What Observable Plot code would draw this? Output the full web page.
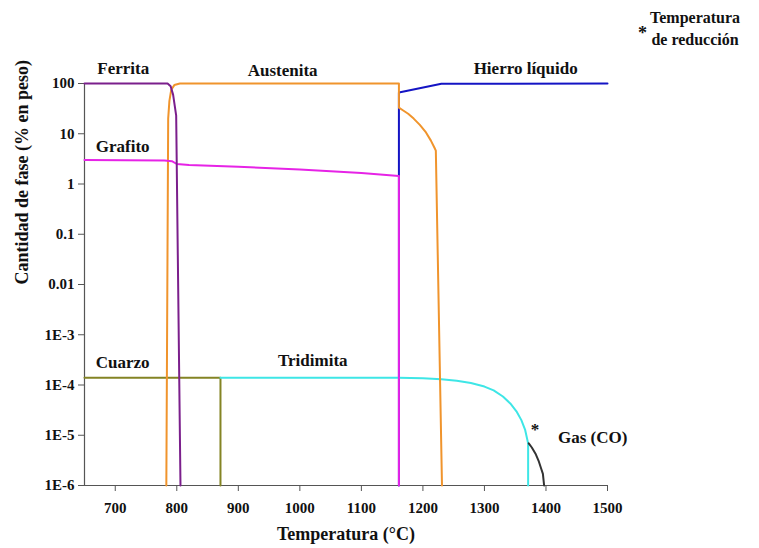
<!DOCTYPE html>
<html>
<head>
<meta charset="utf-8">
<script src="https://cdn.jsdelivr.net/npm/d3@7"></script>
<script src="https://cdn.jsdelivr.net/npm/@observablehq/plot@0.6"></script>
<style>
  body { margin: 0; background: #fff; }
  #wrap { position: relative; width: 759px; height: 548px; font-family: "Liberation Serif", "Times New Roman", serif; font-weight: bold; }
  #legend { position: absolute; left: 636px; top: 7px; font-size: 16px; line-height: 22px; color: #111; }
  #legend .star { position: absolute; left: 2px; top: 15px; font-size: 18px; }
  #legend .txt { margin-left: 14px; text-align: center; }
</style>
</head>
<body>
<div id="wrap">
  <div id="chart"></div>
  <div id="legend"><span class="star">*</span><div class="txt">Temperatura<br>de reducción</div></div>
</div>
<script>
// Data (temperature °C, phase amount % weight)
const ferrita = [[650, 100], [785, 100], [790, 88], [794, 60], [799, 23], [806, 1e-6]];
const austenita = [[783, 1e-6], [786, 20], [788, 45], [791, 75], [796, 93], [805, 100], [1161, 100], [1161, 33], [1168, 29], [1176, 25], [1185, 20], [1195, 15], [1205, 10.6], [1213, 7.3], [1219, 5.2], [1221, 4.6], [1231, 1e-6]];
const hierroLiquido = [[1161, 1e-6], [1161, 66], [1230, 99], [1500, 100]];
const grafito = [[650, 3.0], [780, 2.95], [792, 2.85], [800, 2.5], [820, 2.4], [900, 2.2], [1000, 1.95], [1100, 1.65], [1161, 1.45], [1161, 1e-6]];
const cuarzo = [[650, 1.4e-4], [871, 1.4e-4], [871, 1e-6]];
const tridimita = [[871, 1.4e-4], [1160, 1.4e-4], [1200, 1.36e-4], [1230, 1.3e-4], [1255, 1.22e-4], [1278, 1.1e-4], [1300, 9.3e-5], [1315, 7.8e-5], [1330, 5.9e-5], [1342, 4.3e-5], [1352, 3.0e-5], [1360, 2.0e-5], [1366, 1.3e-5], [1371, 6.9e-6], [1371, 1e-6]];
const gasCO = [[1372, 6.9e-6], [1377, 5.7e-6], [1383, 4.3e-6], [1388, 3.1e-6], [1392, 2.2e-6], [1395, 1.7e-6], [1397, 1e-6]];

const xTicks = [700, 800, 900, 1000, 1100, 1200, 1300, 1400, 1500];
const yTicks = [100, 10, 1, 0.1, 0.01, 1e-3, 1e-4, 1e-5, 1e-6];
const yTickLabels = ["100", "10", "1", "0.1", "0.01", "1E-3", "1E-4", "1E-5", "1E-6"];

const seriesNames = ["Ferrita", "Austenita", "Hierro líquido", "Grafito", "Cuarzo", "Tridimita", "Gas (CO)"];
const seriesData = [ferrita, austenita, hierroLiquido, grafito, cuarzo, tridimita, gasCO];
const seriesColors = ["#7b1f8c", "#f0942c", "#1414c4", "#e623e6", "#848424", "#3ee6e6", "#333333"];

// annotation labels (text, temperature, amount)
const labelText = ["Ferrita", "Austenita", "Hierro líquido", "Grafito", "Cuarzo", "Tridimita", "Gas (CO)", "*"];
const labelX = [713, 972, 1367, 712, 712, 1021, 1476, 1382];
const labelY = [200, 185, 200, 5.6, 2.8e-4, 3.1e-4, 9.1e-6, 1.3e-5];

const xTitle = "Temperatura (°C)";
const yTitle = "Cantidad de fase (% en peso)";

const rows = [];
// draw order: blue first so magenta covers it at 1160
const order = [2, 4, 5, 6, 1, 3, 0];
for (const k of order) {
  seriesData[k].forEach(([t, v]) => rows.push({series: seriesNames[k], t, v}));
}
const labels = labelText.map((s, i) => ({s, x: labelX[i], y: labelY[i]}));

const chart = Plot.plot({
  width: 759,
  height: 548,
  marginLeft: 84,
  marginRight: 152,
  marginTop: 83,
  marginBottom: 63,
  style: {fontFamily: "'Liberation Serif', 'Times New Roman', serif", fontWeight: "bold", fontSize: "15px", color: "#111", background: "#fff"},
  x: {domain: [650, 1500]},
  y: {type: "log", domain: [1e-6, 100]},
  color: {domain: seriesNames, range: seriesColors},
  marks: [
    Plot.axisX({ticks: xTicks, tickSize: 6, tickPadding: 11, label: null, stroke: "#555", fontSize: 15, tickFormat: (d) => String(d)}),
    Plot.axisY({ticks: yTicks, tickSize: 6, tickPadding: 4, label: null, stroke: "#555", fontSize: 15,
      tickFormat: (d) => yTickLabels[yTicks.findIndex((t) => Math.abs(Math.log10(t) - Math.log10(d)) < 1e-6)]}),
    Plot.ruleX([650], {stroke: "#555", strokeWidth: 1.2}),
    Plot.ruleY([1e-6], {stroke: "#555", strokeWidth: 1.2}),
    Plot.line(rows, {x: "t", y: "v", z: "series", stroke: "series", strokeWidth: 2}),
    Plot.text(labels, {x: "x", y: "y", text: "s", fontSize: 17, fill: "#111"}),
    Plot.text([yTitle], {frameAnchor: "left", rotate: -90, dx: -62, fontSize: 18, fill: "#111"}),
    Plot.text([xTitle], {frameAnchor: "bottom", dy: 54, fontSize: 18, fill: "#111"})
  ]
});
document.getElementById("chart").appendChild(chart);
</script>
</body>
</html>
